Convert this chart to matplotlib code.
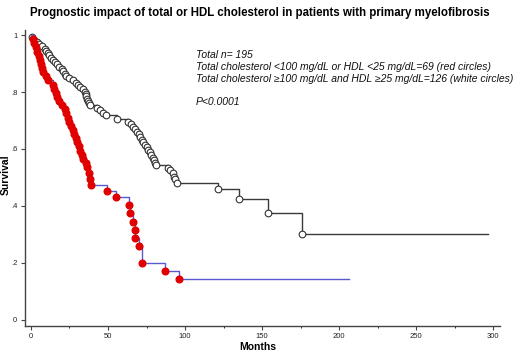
import matplotlib
matplotlib.use("Agg")
import matplotlib.pyplot as plt

plt.rcParams['font.family'] = ['Liberation Sans', 'DejaVu Sans']

# red group: total chol <100 or HDL <25 (n=69)
red_t = [0, 1, 2, 3, 4, 5, 6, 6.5, 7, 8, 9.5, 11, 14, 15, 16, 17, 18.5, 20, 22, 23,
         24, 25, 26, 27, 28, 29, 30, 31, 32, 33, 34, 35.5, 36.5, 37.5, 38.3, 39.2,
         49.2, 55.2, 63.6, 64.3, 66, 67.5, 67.6, 69.9, 71.9, 87.2, 96.3]
red_s = [1, 0.986, 0.971, 0.957, 0.942, 0.928, 0.913, 0.899, 0.884, 0.870, 0.855,
         0.841, 0.826, 0.812, 0.797, 0.783, 0.768, 0.754, 0.739, 0.725, 0.710,
         0.696, 0.681, 0.667, 0.652, 0.638, 0.623, 0.609, 0.594, 0.580, 0.565,
         0.551, 0.536, 0.517, 0.495, 0.475, 0.454, 0.433, 0.402, 0.374, 0.344,
         0.316, 0.287, 0.260, 0.201, 0.172, 0.144]
red_end = 206.5

# white group: total chol >=100 and HDL >=25 (n=126)
wht_t = [0, 0.5, 2, 4, 5.5, 7, 9, 10, 11, 12, 13, 14.5, 15.5, 17, 18.5, 20, 21, 22, 23,
         25, 27, 29, 30.5, 32, 33.5, 35, 35.5, 36, 36.5, 37, 37.5, 38, 43, 45, 47,
         48.5, 55.6, 63.2, 65, 66, 67.5, 68.6, 70, 71, 72, 73, 74, 75, 76, 77, 78,
         79, 80, 80.5, 81, 89, 90.5, 92, 92.5, 93.5, 94.6, 121.2, 135.3, 153.9, 176]
wht_s = [1, 0.992, 0.984, 0.976, 0.968, 0.960, 0.952, 0.944, 0.937, 0.929, 0.921,
         0.913, 0.905, 0.897, 0.889, 0.881, 0.873, 0.865, 0.857, 0.849, 0.841,
         0.833, 0.825, 0.817, 0.809, 0.801, 0.793, 0.785, 0.777, 0.769, 0.761,
         0.753, 0.745, 0.736, 0.728, 0.719, 0.706, 0.696, 0.687, 0.678, 0.669,
         0.660, 0.651, 0.642, 0.633, 0.624, 0.615, 0.606, 0.597, 0.588, 0.579,
         0.570, 0.561, 0.552, 0.543, 0.534, 0.525, 0.514, 0.503, 0.493, 0.482,
         0.459, 0.423, 0.374, 0.302]
wht_end = 296.3

fig = plt.figure(figsize=(5.2, 3.52), dpi=100)
ax = fig.add_axes([0.048, 0.075, 0.914, 0.84])

ax.step(wht_t + [wht_end], wht_s + [wht_s[-1]], where='post', color='#3a3a3a', lw=1.0)
ax.plot(wht_t[1:], wht_s[1:], 'o', mfc='white', mec='#333333', ms=4.8, mew=0.8)

ax.step(red_t + [red_end], red_s + [red_s[-1]], where='post', color='#5a5ad0', lw=1.0)
ax.plot(red_t[1:], red_s[1:], 'o', mfc='#e00000', mec='#e00000', ms=4.8)

ax.set_xlim(-3.9, 304.5)
ax.set_ylim(-0.02, 1.018)
ax.set_xticks([0, 50, 100, 150, 200, 250, 300])
ax.set_xticks([25, 75, 125, 175, 225, 275], minor=True)
ax.set_yticks([0, 0.2, 0.4, 0.6, 0.8, 1])
ax.set_yticklabels(['0', '.2', '.4', '.6', '.8', '1'])
for s in ['top', 'right']:
    ax.spines[s].set_visible(False)
for s in ['left', 'bottom']:
    ax.spines[s].set_color('#444444')
    ax.spines[s].set_linewidth(1.0)
ax.tick_params(labelsize=5.5, length=3, width=0.8, colors='#444444',
               labelcolor='#222222', pad=2.5)
ax.tick_params(which='minor', length=1.5, width=0.6)

fig.text(258 / 520, 1 - 346.5 / 352, 'Months', ha='center', va='center',
         fontsize=7.5, fontweight='bold')
fig.text(6 / 520, 1 - 175 / 352, 'Survival', ha='center', va='center',
         rotation=90, fontsize=7.5, fontweight='bold')

fig.text(0.5, 0.962, 'Prognostic impact of total or HDL cholesterol in patients with primary myelofibrosis',
         ha='center', va='center', fontsize=8.3, fontweight='bold')

notes = ['Total n= 195',
         'Total cholesterol <100 mg/dL or HDL <25 mg/dL=69 (red circles)',
         'Total cholesterol \u2265100 mg/dL and HDL \u226525 mg/dL=126 (white circles)',
         '',
         'P<0.0001']
fig.text(196 / 520, 1 - 50 / 352, '\n'.join(notes), ha='left', va='top',
         fontsize=7.5, style='italic', linespacing=1.22, color='#111111')

fig.savefig('out.png', dpi=100)
